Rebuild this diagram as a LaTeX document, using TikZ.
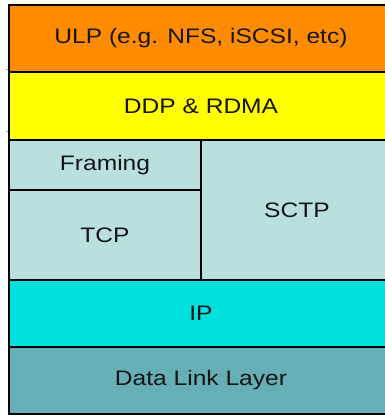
\documentclass[tikz,border=0pt]{standalone}
\usepackage{fontspec}
\setmainfont{Liberation Sans}
\newfontfamily\layerfont[FakeStretch=1.17]{Liberation Sans}
\definecolor{ulpfill}{HTML}{FF8C00}
\definecolor{ddpfill}{HTML}{FFFF00}
\definecolor{transfill}{HTML}{B9DFDF}
\definecolor{ipfill}{HTML}{00E0DC}
\definecolor{linkfill}{HTML}{66AFB6}
\definecolor{labeltext}{HTML}{151515}
\begin{document}
\begin{tikzpicture}[x=1pt,y=-1pt,
  layer/.style={draw=black, line width=2.4pt, inner sep=0pt, outer sep=0pt,
    font=\layerfont\fontsize{21}{25}\selectfont, text=labeltext},
  tick/.style={draw=gray!70, line width=0.8pt}]
\useasboundingbox (0,0) rectangle (384,415);
% protocol stack, top to bottom
\node[layer, fill=ulpfill, minimum width=384pt, minimum height=67pt] (ulp) at (201,38.5) {ULP (e.g. NFS, iSCSI, etc)};
\node[layer, fill=ddpfill, minimum width=384pt, minimum height=68pt] (ddp) at (201,106) {DDP \& RDMA};
\node[layer, fill=transfill, minimum width=192pt, minimum height=50pt] (framing) at (105,165) {Framing};
\node[layer, fill=transfill, minimum width=192pt, minimum height=90pt] (tcp) at (105,235) {TCP};
\node[layer, fill=transfill, minimum width=192pt, minimum height=140pt] (sctp) at (297,210) {SCTP};
\node[layer, fill=ipfill, minimum width=384pt, minimum height=67pt] (ip) at (201,313.5) {IP};
\node[layer, fill=linkfill, minimum width=384pt, minimum height=67pt] (dll) at (201,380.5) {Data Link Layer};
% small marks beside the left edge
\draw[tick] (6,69) -- (8,69);
\draw[tick] (6,131.5) -- (8,131.5);
\end{tikzpicture}
\end{document}
